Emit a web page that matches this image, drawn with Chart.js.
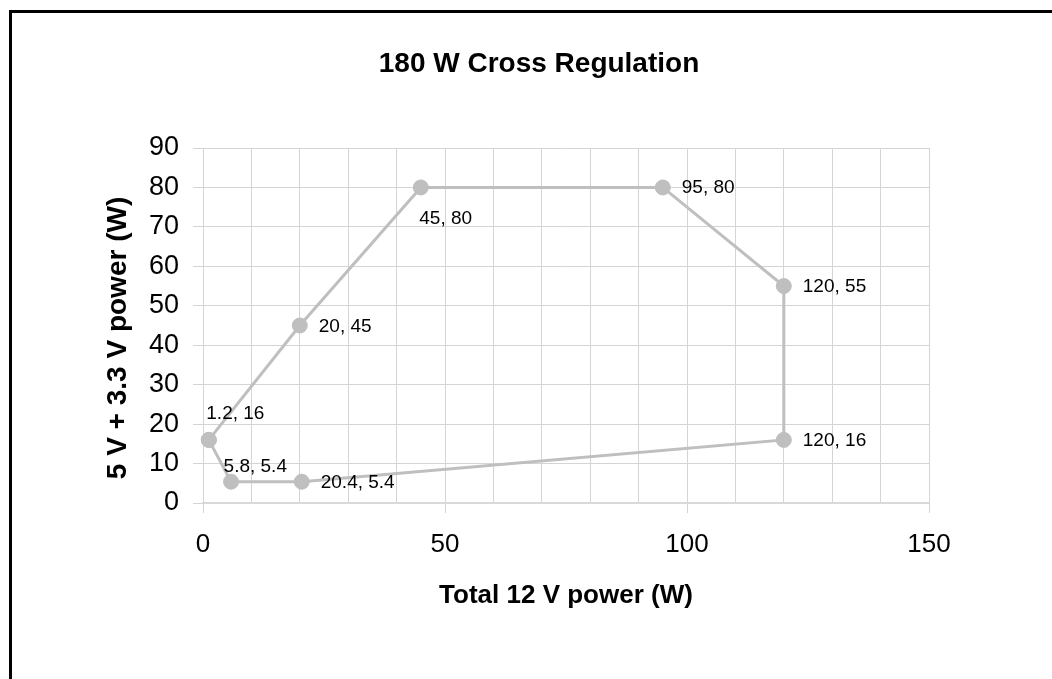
<!DOCTYPE html>
<html>
<head>
<meta charset="utf-8">
<script src="https://cdn.jsdelivr.net/npm/chart.js@4.4.1/dist/chart.umd.min.js"></script>
<style>
  html, body { margin: 0; padding: 0; background: #ffffff; }
  canvas { display: block; }
</style>
</head>
<body>
<canvas id="c" width="1052" height="679"></canvas>
<script>
// ---- data ----
const chartTitle = "180 W Cross Regulation";
const xAxisTitle = "Total 12 V power (W)";
const yAxisTitle = "5 V + 3.3 V power (W)";
const xValues = [1.2, 5.8, 20.4, 120, 120, 95, 45, 20, 1.2];   // 12 V power
const yValues = [16, 5.4, 5.4, 16, 55, 80, 80, 45, 16];         // 5 V + 3.3 V power
const xTickLabels = [0, 50, 100, 150];
const yTickLabels = [0, 10, 20, 30, 40, 50, 60, 70, 80, 90];

// label placement for each point (style, not data)
const labelPlacement = ["above", "above2", "right", "right", "right", "right", "below", "right", null];

const FONT = "'Liberation Sans', Arial, sans-serif";
const GRAY = "#bfbfbf";
const GRID = "#d4d4d4";

const points = xValues.map((x, i) => ({ x: x, y: yValues[i] }));

const decorPlugin = {
  id: 'decor',
  beforeDraw(chart) {
    const c = chart.ctx;
    c.save();
    c.fillStyle = '#ffffff';
    c.fillRect(0, 0, chart.width, chart.height);
    c.restore();
  },
  afterDraw(chart) {
    const c = chart.ctx;
    const area = chart.chartArea;
    c.save();
    // outer frame
    c.strokeStyle = '#000000';
    c.lineWidth = 3;
    c.strokeRect(10.5, 11.5, 3000, 3000);
    // chart title
    c.fillStyle = '#000000';
    c.textAlign = 'center';
    c.textBaseline = 'alphabetic';
    c.font = "bold 28px " + FONT;
    c.fillText(chartTitle, 539, 72);
    // x axis title
    c.font = "bold 26px " + FONT;
    c.fillText(xAxisTitle, (area.left + area.right) / 2, 603);
    // y axis title
    c.save();
    c.font = "bold 28px " + FONT;
    c.translate(126, 338);
    c.rotate(-Math.PI / 2);
    c.fillText(yAxisTitle, 0, 0);
    c.restore();
    // data labels
    const meta = chart.getDatasetMeta(0);
    c.font = "19px " + FONT;
    c.textAlign = 'left';
    meta.data.forEach((el, i) => {
      const place = labelPlacement[i];
      if (!place) return;
      const txt = xValues[i] + ", " + yValues[i];
      let lx = el.x, ly = el.y;
      if (place === 'right') { lx += 19; ly += 6; }
      else if (place === 'above') { lx -= 2.5; ly -= 21; }
      else if (place === 'above2') { lx -= 7.5; ly -= 10; }
      else if (place === 'below') { lx -= 1.5; ly += 36.5; }
      c.fillText(txt, lx, ly);
    });
    c.restore();
  }
};

new Chart(document.getElementById('c'), {
  type: 'scatter',
  data: {
    datasets: [{
      data: points,
      showLine: true,
      borderColor: GRAY,
      borderWidth: 3,
      backgroundColor: GRAY,
      pointBackgroundColor: GRAY,
      pointBorderColor: GRAY,
      pointBorderWidth: 1,
      pointRadius: 7.5,
      pointHoverRadius: 7.5,
      tension: 0,
      clip: false
    }]
  },
  options: {
    responsive: false,
    animation: false,
    devicePixelRatio: 1,
    layout: { padding: { top: 148, right: 123, left: 0, bottom: 0 } },
    plugins: {
      legend: { display: false },
      title: { display: false },
      tooltip: { enabled: false }
    },
    scales: {
      x: {
        type: 'linear',
        min: xTickLabels[0],
        max: xTickLabels[xTickLabels.length - 1],
        afterFit(scale) { scale.height = 176; },
        ticks: {
          stepSize: 10,
          autoSkip: false,
          maxRotation: 0,
          padding: 16,
          color: '#000000',
          font: { family: FONT, size: 26 },
          callback: (v) => xTickLabels.includes(v) ? String(v) : ''
        },
        grid: {
          color: GRID,
          lineWidth: 1,
          tickLength: 10,
          tickColor: (ctx) => (ctx.tick && xTickLabels.includes(ctx.tick.value)) ? GRID : 'rgba(0,0,0,0)'
        },
        border: { color: '#d9d9d9', width: 2 }
      },
      y: {
        type: 'linear',
        min: yTickLabels[0],
        max: yTickLabels[yTickLabels.length - 1],
        afterFit(scale) { scale.width = 203; },
        ticks: {
          stepSize: 10,
          padding: 14,
          color: '#000000',
          font: { family: FONT, size: 27 },
          callback: (v) => yTickLabels.includes(v) ? String(v) : ''
        },
        grid: { color: GRID, lineWidth: 1, tickLength: 10, tickColor: GRID },
        border: { color: GRID, width: 1 }
      }
    }
  },
  plugins: [decorPlugin]
});
</script>
</body>
</html>
